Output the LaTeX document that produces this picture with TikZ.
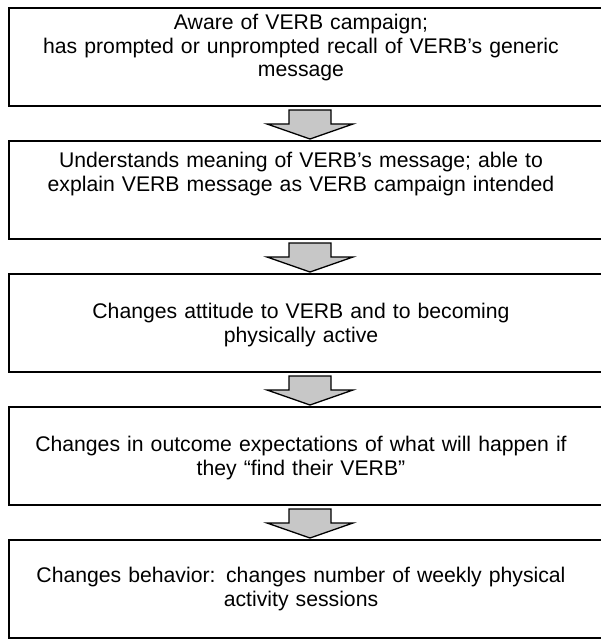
\documentclass[tikz,border=0pt]{standalone}
\usepackage{fontspec}
\setmainfont{Liberation Sans}
\begin{document}
\begin{tikzpicture}[x=1pt,y=-1pt,
  stagebox/.style={draw=black,line width=2pt},
  stagetext/.style={font=\fontsize{21.2}{23.5}\selectfont,align=center,inner sep=0pt,text width=595pt},
  flowarrow/.style={draw=black,line width=1.3pt,fill=black!22,line join=miter}]
\useasboundingbox (0,0) rectangle (601,639);
\foreach \t [count=\i] in {8,141,274,407,540} {
  \draw[stagebox] (9,\t) rectangle (640,\t+98);
}
\node[stagetext] (t1) at (301,48) {Aware of VERB campaign;\\has prompted or unprompted recall of VERB’s generic\\message};
\node[stagetext] (t2) at (301,174) {Understands meaning of VERB’s message; able to\\explain VERB message as VERB campaign intended};
\node[stagetext] (t3) at (301,325) {Changes attitude to VERB and to becoming\\physically active};
\node[stagetext] (t4) at (301,458) {Changes in outcome expectations of what will happen if\\they “find their VERB”};
\node[stagetext] (t5) at (301,589) {Changes behavior: changes number of weekly physical\\activity sessions};
\foreach \b in {106,239,372,505} {
  \draw[flowarrow] (289,\b+4) -- (331,\b+4) -- (331,\b+18) -- (353,\b+18) -- (310,\b+33) -- (267,\b+18) -- (289,\b+18) -- cycle;
}
\end{tikzpicture}
\end{document}
